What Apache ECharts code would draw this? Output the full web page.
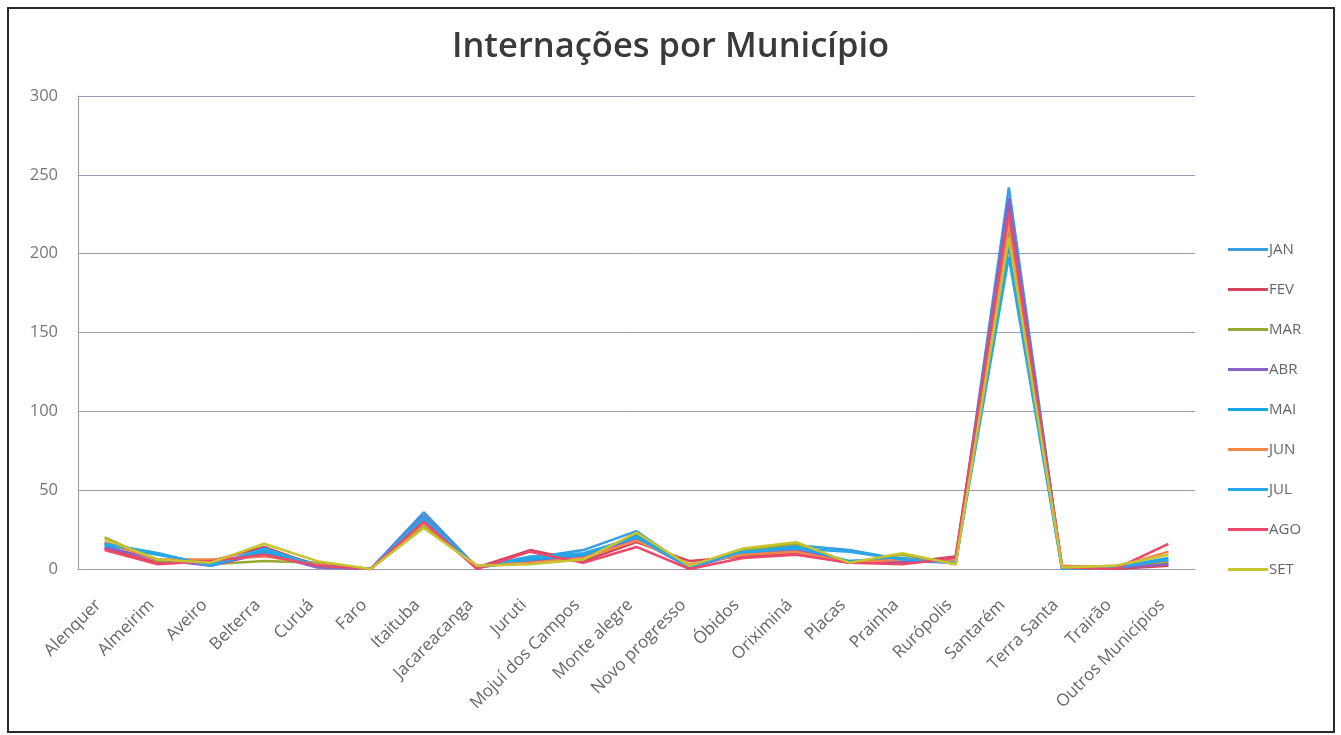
<!DOCTYPE html>
<html>
<head>
<meta charset="utf-8">
<script src="https://cdn.jsdelivr.net/npm/echarts@6/dist/echarts.min.js"></script>
<style>
  html, body { margin: 0; padding: 0; background: #ffffff; }
  #chart { width: 1341px; height: 735px; }
</style>
</head>
<body>
<div id="chart"></div>
<script>
// Municípios (categorias do eixo X)
const municipios = [
  'Alenquer', 'Almeirim', 'Aveiro', 'Belterra', 'Curuá', 'Faro', 'Itaituba',
  'Jacareacanga', 'Juruti', 'Mojuí dos Campos', 'Monte alegre', 'Novo progresso',
  'Óbidos', 'Oriximiná', 'Placas', 'Prainha', 'Rurópolis', 'Santarém',
  'Terra Santa', 'Trairão', 'Outros Municípios'
];

// Internações por mês, na ordem dos municípios acima
const jan = [16, 10, 2, 12, 3, 0, 36, 1, 7, 12, 24, 1, 11, 15, 12, 6, 4, 242, 0, 1, 5];
const fev = [13, 4, 5, 14, 2, 0, 32, 1, 12, 5, 17, 5, 8, 10, 4, 4, 8, 230, 2, 0, 2];
const mar = [20, 5, 3, 5, 4, 0, 27, 2, 4, 6, 22, 2, 12, 16, 4, 9, 3, 214, 1, 2, 4];
const abr = [14, 6, 2, 10, 1, 0, 34, 1, 5, 8, 19, 1, 10, 12, 5, 5, 4, 235, 1, 1, 3];
const mai = [15, 9, 3, 11, 2, 0, 31, 1, 6, 9, 21, 2, 10, 14, 5, 7, 4, 205, 0, 1, 7];
const jun = [17, 6, 6, 8, 3, 0, 29, 2, 4, 7, 18, 3, 9, 11, 4, 6, 5, 220, 2, 1, 11];
const jul = [16, 10, 2, 13, 2, 0, 33, 1, 8, 10, 20, 1, 11, 13, 11, 6, 4, 198, 0, 1, 6];
const ago = [12, 3, 5, 9, 2, 0, 30, 0, 11, 4, 14, 0, 7, 9, 4, 3, 7, 226, 1, 0, 16];
const set = [19, 6, 4, 16, 5, 0, 26, 2, 3, 6, 23, 2, 13, 17, 4, 10, 3, 210, 1, 2, 9];

const meses = ['JAN', 'FEV', 'MAR', 'ABR', 'MAI', 'JUN', 'JUL', 'AGO', 'SET'];
const valores = [jan, fev, mar, abr, mai, jun, jul, ago, set];
const cores = ['#3a9de0', '#d2455a', '#9aa832', '#8a62c8', '#1aa6e6',
               '#f5864a', '#28a8e8', '#ec4a6c', '#c8c430'];

// Valores do eixo Y
const yMin = 0, yMax = 300, yPasso = 50;

const chart = echarts.init(document.getElementById('chart'), null, { renderer: 'canvas' });

chart.setOption({
  backgroundColor: '#ffffff',
  animation: false,
  color: cores,
  title: {
    text: 'Internações por Município',
    left: 'center',
    top: 25,
    textStyle: {
      fontFamily: 'Open Sans',
      fontWeight: 600,
      fontSize: 34.5,
      color: '#3a3a3a'
    }
  },
  graphic: [{
    type: 'rect',
    shape: { x: 8, y: 8, width: 1326, height: 724 },
    style: { fill: 'none', stroke: '#2a2a2a', lineWidth: 2 },
    silent: true
  }],
  legend: {
    orient: 'vertical',
    left: 1223,
    top: 237,
    itemWidth: 40,
    itemHeight: 3,
    itemGap: 25,
    icon: 'rect',
    data: meses,
    textStyle: { fontFamily: 'Open Sans', fontSize: 15, color: '#666', padding: [0, 0, 0, -4] }
  },
  grid: { left: 78, right: 146, top: 96, bottom: 166, containLabel: false },
  xAxis: {
    type: 'category',
    data: municipios,
    boundaryGap: true,
    axisTick: { show: false },
    axisLine: { lineStyle: { color: '#9a9ab4', width: 1 } },
    axisLabel: {
      rotate: 45,
      margin: 27,
      interval: 0,
      padding: [0, 9, 0, 0],
      fontFamily: 'Open Sans',
      fontSize: 17,
      color: '#666'
    }
  },
  yAxis: {
    type: 'value',
    min: yMin,
    max: yMax,
    interval: yPasso,
    axisLine: { show: true, lineStyle: { color: '#9a9ab4', width: 1 } },
    axisTick: { show: false },
    splitLine: { lineStyle: { color: '#9a9ab4', width: 1 } },
    axisLabel: {
      margin: 20,
      fontFamily: 'Open Sans',
      fontSize: 16.5,
      color: '#777'
    }
  },
  series: meses.map((m, i) => ({
    name: m,
    type: 'line',
    data: valores[i],
    symbol: 'none',
    lineStyle: { width: 2.5 },
    z: 2 + i
  }))
});
</script>
</body>
</html>
